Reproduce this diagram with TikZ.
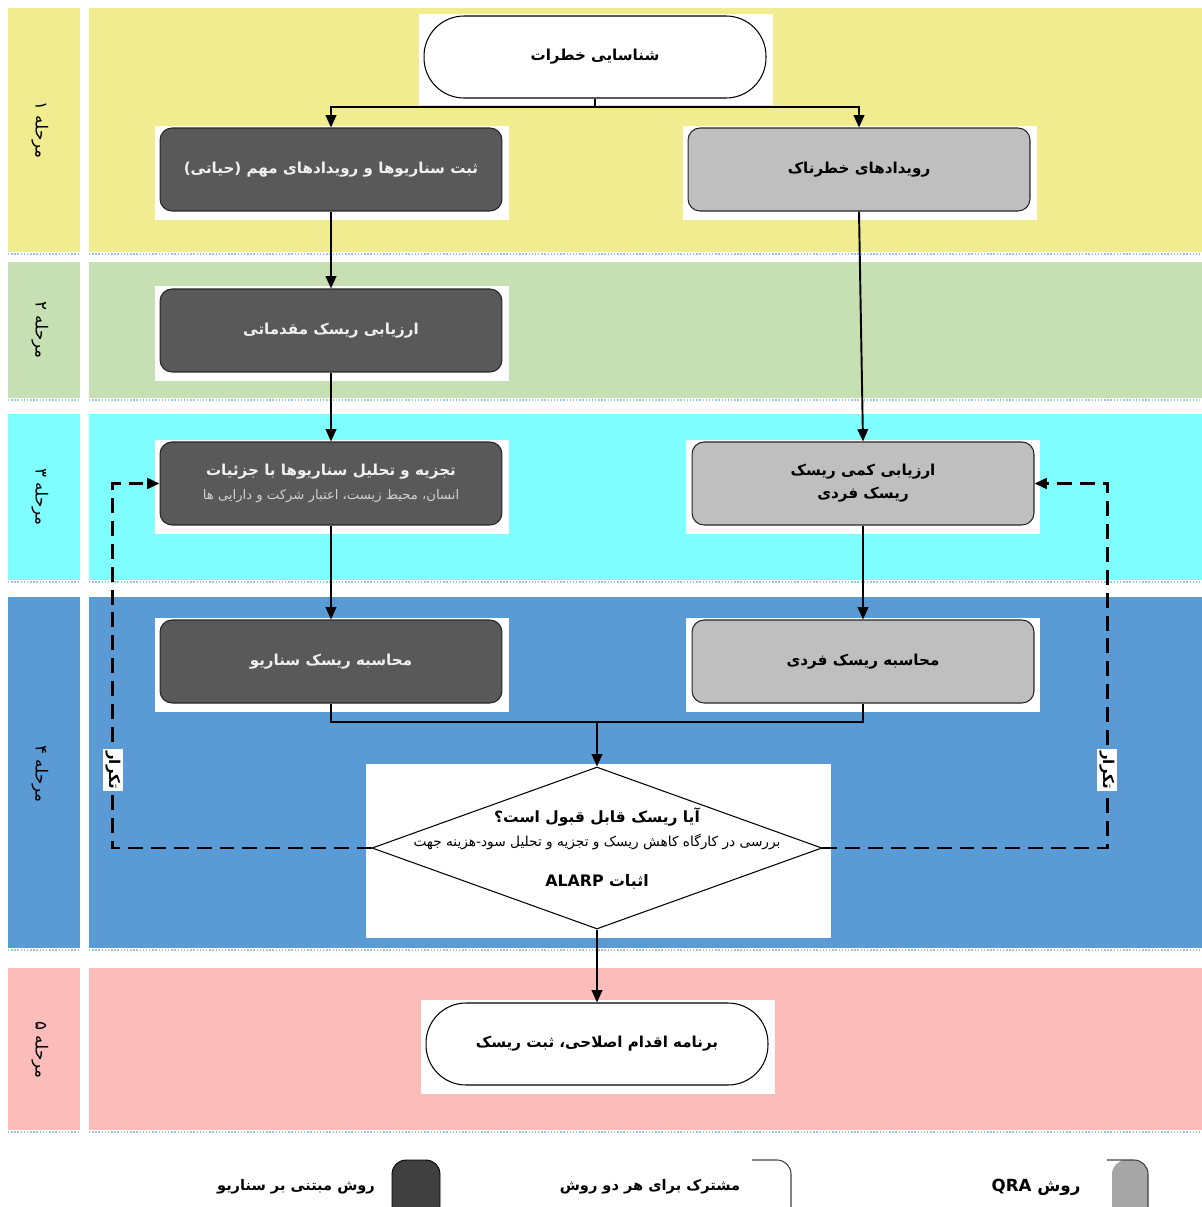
\documentclass[tikz,border=0pt]{standalone}
\usepackage{fontspec}
\usetikzlibrary{arrows.meta,shapes.geometric}
\newfontfamily\fa[Script=Arabic]{DejaVu Sans}
\TeXXeTstate=1
\newcommand{\faR}[1]{\beginR#1\endR}
\definecolor{bandA}{RGB}{240,236,143}
\definecolor{bandB}{RGB}{198,224,180}
\definecolor{bandC}{RGB}{127,255,255}
\definecolor{bandD}{RGB}{91,155,213}
\definecolor{bandE}{RGB}{251,188,186}
\definecolor{darkfill}{RGB}{89,89,89}
\definecolor{grayfill}{RGB}{191,191,191}
\definecolor{dotblue}{RGB}{157,195,230}
\definecolor{legdark}{RGB}{64,64,64}
\definecolor{leggray}{RGB}{166,166,166}
\begin{document}
\begin{tikzpicture}[x=0.02cm,y=-0.02cm,
  box/.style={draw=black!85, line width=0.6pt, rounded corners=0.24cm, minimum width=6.84cm, minimum height=1.66cm, inner sep=2pt, align=center, font=\fa\bfseries\fontsize{8.6}{13}\selectfont},
  darkbox/.style={box, fill=darkfill, text=white!94!black},
  graybox/.style={box, fill=grayfill, text=black},
  pill/.style={draw=black, line width=0.6pt, fill=white, rounded corners=0.8cm, minimum width=6.84cm, minimum height=1.64cm, font=\fa\bfseries\fontsize{8.6}{13}\selectfont},
  flow/.style={line width=1.1pt, -{Triangle[length=7pt,width=6pt]}},
  plain/.style={line width=1.1pt},
  loopline/.style={line width=1.6pt, dash pattern=on 8.5pt off 4.5pt, -{Triangle[length=7pt,width=6pt]}},
  stagelbl/.style={rotate=-90, font=\fa\fontsize{9.5}{11}\selectfont},
  looplbl/.style={rotate=-90, fill=white, inner sep=1.5pt, font=\fa\bfseries\fontsize{8.5}{10}\selectfont},
  legtxt/.style={font=\fa\bfseries\fontsize{8.3}{10}\selectfont},
  dtxt/.style={inner sep=0pt}
]
\useasboundingbox (0,0) rectangle (1202,1207);
% bands
\fill[bandA] (8,8) rectangle (80,252);   \fill[bandA] (89,8) rectangle (1202,252);
\fill[bandB] (8,262) rectangle (80,398); \fill[bandB] (89,262) rectangle (1202,398);
\fill[bandC] (8,414) rectangle (80,580); \fill[bandC] (89,414) rectangle (1202,580);
\fill[bandD] (8,597) rectangle (80,948); \fill[bandD] (89,597) rectangle (1202,948);
\fill[bandE] (8,968) rectangle (80,1130);\fill[bandE] (89,968) rectangle (1202,1130);
\foreach \yy in {254,400,582,950,1132}{
  \draw[dotblue, densely dotted, line width=0.8pt] (8,\yy) -- (80,\yy);
  \draw[dotblue, densely dotted, line width=0.8pt] (89,\yy) -- (1202,\yy);
}
% stage labels
\node[stagelbl] (s1) at (40,130) {\faR{مرحله ۱}};
\node[stagelbl] (s2) at (40,330) {\faR{مرحله ۲}};
\node[stagelbl] (s3) at (40,497) {\faR{مرحله ۳}};
\node[stagelbl] (s4) at (40,774) {\faR{مرحله ۴}};
\node[stagelbl] (s5) at (40,1050) {\faR{مرحله ۵}};
% white backings
\fill[white] (419,14) rectangle (773,105);
\fill[white] (155,126) rectangle (509,220);
\fill[white] (683,126) rectangle (1037,220);
\fill[white] (155,286) rectangle (509,381);
\fill[white] (155,440) rectangle (509,534);
\fill[white] (686,440) rectangle (1040,534);
\fill[white] (155,618) rectangle (509,712);
\fill[white] (686,618) rectangle (1040,712);
\fill[white] (366,764) rectangle (831,938);
\fill[white] (421,1000) rectangle (775,1094);
% nodes
\node[pill] (start) at (595,57) {\faR{شناسایی خطرات}};
\node[darkbox] (d1) at (331,169.5) {\faR{ثبت سناریوها و رویدادهای مهم (حیاتی)}};
\node[graybox] (g1) at (859,169.5) {\faR{رویدادهای خطرناک}};
\node[darkbox] (d2) at (331,330.5) {\faR{ارزیابی ریسک مقدماتی}};
\node[darkbox] (d3) at (331,483.5) {\faR{تجزیه و تحلیل سناریوها با جزئیات}\\[1pt]{\mdseries\fontsize{7.5}{10}\selectfont\color{white!82!black}\faR{انسان، محیط زیست، اعتبار شرکت و دارایی ها}}};
\node[graybox] (g2) at (863,483.5) {\faR{ارزیابی کمی ریسک}\\\faR{ریسک فردی}};
\node[darkbox] (d4) at (331,661.5) {\faR{محاسبه ریسک سناریو}};
\node[graybox] (g3) at (863,661.5) {\faR{محاسبه ریسک فردی}};
\node[diamond, draw=black, line width=0.6pt, fill=white, inner sep=0pt, minimum width=9cm, minimum height=3.24cm] (dec) at (597,848) {};
\node[dtxt, font=\fa\bfseries\fontsize{8.8}{11}\selectfont] (dq1) at (597,817) {\faR{آیا ریسک قابل قبول است؟}};
\node[dtxt, font=\fa\fontsize{7.8}{10}\selectfont] (dq2) at (597,842) {\faR{بررسی در کارگاه کاهش ریسک و تجزیه و تحلیل سود-هزینه جهت}};
\node[dtxt, font=\fa\bfseries\fontsize{9}{11}\selectfont] (dq3) at (597,882) {\faR{اثبات \beginL ALARP\endL}};
\node[pill] (endn) at (597,1044) {\faR{برنامه اقدام اصلاحی، ثبت ریسک}};
% connectors
\coordinate (split) at (595,107);
\coordinate (merge) at (597,722);
\draw[plain] (start.south) -- (split);
\draw[flow] (split) -| (d1.north);
\draw[flow] (split) -| (g1.north);
\draw[flow] (d1.south) -- (d2.north);
\draw[flow] (g1.south) -- (g2.north);
\draw[flow] (d2.south) -- (d3.north);
\draw[flow] (d3.south) -- (d4.north);
\draw[flow] (g2.south) -- (g3.north);
\draw[plain] (d4.south) |- (merge);
\draw[plain] (g3.south) |- (merge);
\draw[flow] (merge) -- (dec.north);
\draw[flow] (dec.south) -- (endn.north);
\draw[loopline] (dec.west) -- ++(-259,0) |- (d3.west);
\draw[loopline] (dec.east) -- ++(285,0) |- (g2.east);
\node[looplbl] (r1) at (113,770) {\faR{تکرار}};
\node[looplbl] (r2) at (1107,770) {\faR{تکرار}};
% legend
\fill[legdark, rounded corners=0.28cm] (392,1160) rectangle (440,1220);
\draw[black, line width=0.5pt, rounded corners=0.28cm] (392,1160) rectangle (440,1220);
\node[legtxt] (l1) at (296,1187) {\faR{روش مبتنی بر سناریو}};
\draw[legdark, line width=0.6pt, rounded corners=0.28cm] (752,1160) -- (791,1160) -- (791,1220);
\node[legtxt] (l2) at (650,1187) {\faR{مشترک برای هر دو روش}};
\fill[leggray, rounded corners=0.28cm] (1112,1220) -- (1112,1160) -- (1148,1160) -- (1148,1220);
\draw[legdark, line width=0.6pt, rounded corners=0.28cm] (1107,1160) -- (1148,1160) -- (1148,1220);
\node[legtxt, font=\fa\bfseries\fontsize{9.5}{11}\selectfont] (l3) at (1036,1187) {\faR{روش \beginL QRA\endL}};
\end{tikzpicture}
\end{document}
